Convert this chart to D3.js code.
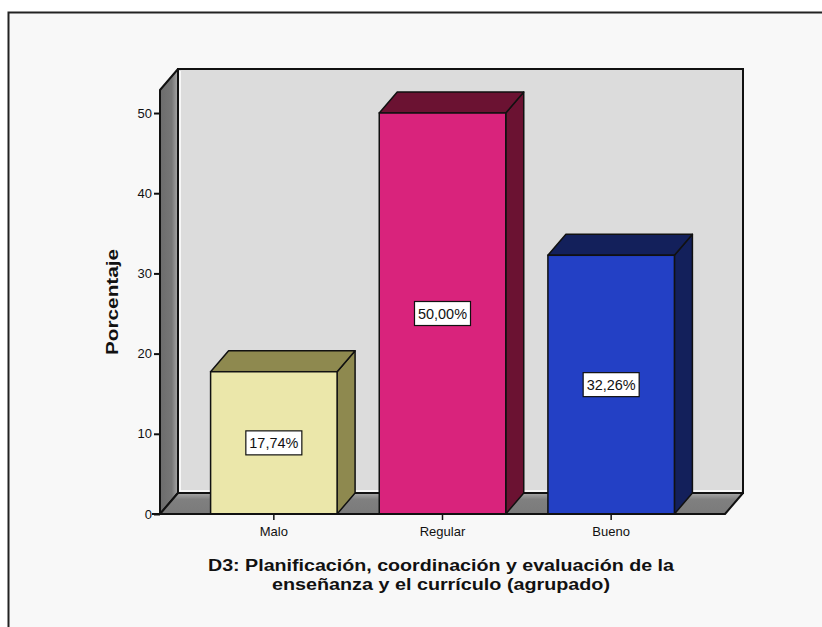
<!DOCTYPE html>
<html>
<head>
<meta charset="utf-8">
<script src="https://cdn.jsdelivr.net/npm/d3@7"></script>
<style>
  html, body { margin: 0; padding: 0; background: #ffffff; }
  svg { display: block; font-family: "Liberation Sans", Arial, sans-serif; }
</style>
</head>
<body>
<svg id="chart" width="822" height="627"></svg>
<script>
// Categories and percentages
const categories = ["Malo", "Regular", "Bueno"];
const percentages = [17.74, 50.00, 32.26];
const valueLabels = ["17,74%", "50,00%", "32,26%"];
const yTicks = [0, 10, 20, 30, 40, 50];
const frontColors = ["#ebe7aa", "#d9237c", "#2340c5"];
const darkColors = ["#8e894f", "#6b1232", "#13205b"];
const xTitle = ["D3: Planificación, coordinación y evaluación de la",
                "enseñanza y el currículo (agrupado)"];
const yTitle = "Porcentaje";

(function () {
const svg = d3.select("#chart");

// Outer panel
svg.append("rect")
  .attr("x", 8.5).attr("y", 12.5).attr("width", 840).attr("height", 640)
  .attr("fill", "#f8f8f8").attr("stroke", "#222").attr("stroke-width", 2);

// Plot geometry (front plane) and depth offset
const pLeft = 160, pRight = 725, pBottom = 514, pTop = 90;
const dx = 18, dy = -21;

const y = d3.scaleLinear().domain([0, 52.87]).range([pBottom, pTop]);
const x = d3.scaleBand().domain(categories).range([pLeft, pRight])
  .paddingInner(0.25).paddingOuter(0.3);

const defs = svg.append("defs");
const gWall = defs.append("linearGradient").attr("id", "leftWall")
  .attr("x1", 0).attr("x2", 1).attr("y1", 0).attr("y2", 0);
gWall.append("stop").attr("offset", "0%").attr("stop-color", "#6c6c6c");
gWall.append("stop").attr("offset", "65%").attr("stop-color", "#767676");
gWall.append("stop").attr("offset", "100%").attr("stop-color", "#a8a8a8");
const gFloor = defs.append("linearGradient").attr("id", "floor")
  .attr("x1", 0).attr("x2", 0).attr("y1", 1).attr("y2", 0);
gFloor.append("stop").attr("offset", "0%").attr("stop-color", "#7a7a7a");
gFloor.append("stop").attr("offset", "70%").attr("stop-color", "#808080");
gFloor.append("stop").attr("offset", "100%").attr("stop-color", "#a8a8a8");

const poly = pts => pts.map(p => p.join(",")).join(" ");

// Back wall
svg.append("rect")
  .attr("x", pLeft + dx).attr("y", pTop + dy)
  .attr("width", pRight - pLeft).attr("height", pBottom - pTop)
  .attr("fill", "#dcdcdc").attr("stroke", "#111").attr("stroke-width", 2);
svg.append("polyline")
  .attr("points", poly([[pLeft + dx + 2, pTop + dy + 2], [pLeft + dx + 2, pBottom + dy - 2], [pRight + dx - 2, pBottom + dy - 2]]))
  .attr("fill", "none").attr("stroke", "#ffffff").attr("stroke-width", 1.5);

// Left wall
svg.append("polygon")
  .attr("points", poly([[pLeft, pTop], [pLeft + dx, pTop + dy], [pLeft + dx, pBottom + dy], [pLeft, pBottom]]))
  .attr("fill", "url(#leftWall)").attr("stroke", "#111").attr("stroke-width", 2)
  .attr("stroke-linejoin", "round");

// Floor
svg.append("polygon")
  .attr("points", poly([[pLeft, pBottom], [pLeft + dx, pBottom + dy], [pRight + dx, pBottom + dy], [pRight, pBottom]]))
  .attr("fill", "url(#floor)").attr("stroke", "#111").attr("stroke-width", 2)
  .attr("stroke-linejoin", "round");

// Bars
const bars = svg.append("g").selectAll("g").data(categories).join("g");
bars.each(function (c, i) {
  const g = d3.select(this);
  const x0 = x(c), x1 = x(c) + x.bandwidth();
  const yt = y(percentages[i]), yb = y(0);
  g.append("polygon")
    .attr("points", poly([[x1, yt], [x1 + dx, yt + dy], [x1 + dx, yb + dy], [x1, yb]]))
    .attr("fill", darkColors[i]).attr("stroke", "#111").attr("stroke-width", 1.5)
    .attr("stroke-linejoin", "round");
  g.append("polygon")
    .attr("points", poly([[x0, yt], [x0 + dx, yt + dy], [x1 + dx, yt + dy], [x1, yt]]))
    .attr("fill", darkColors[i]).attr("stroke", "#111").attr("stroke-width", 1.5)
    .attr("stroke-linejoin", "round");
  g.append("rect")
    .attr("x", x0).attr("y", yt).attr("width", x1 - x0).attr("height", yb - yt)
    .attr("fill", frontColors[i]).attr("stroke", "#111").attr("stroke-width", 1.5);
});

// Value labels in boxes
bars.each(function (c, i) {
  const g = d3.select(this);
  const cx = x(c) + x.bandwidth() / 2;
  const cy = (y(percentages[i]) + y(0)) / 2;
  g.append("rect")
    .attr("x", cx - 28).attr("y", cy - 12).attr("width", 56).attr("height", 24)
    .attr("fill", "#ffffff").attr("stroke", "#111").attr("stroke-width", 1.2);
  g.append("text")
    .attr("x", cx).attr("y", cy).attr("dy", "0.36em")
    .attr("text-anchor", "middle").attr("font-size", 14).attr("fill", "#111")
    .attr("textLength", 49).attr("lengthAdjust", "spacingAndGlyphs")
    .text(valueLabels[i]);
});

// Y axis
const yAxis = d3.axisLeft(y).tickValues(yTicks).tickFormat(d3.format("d"))
  .tickSize(6).tickPadding(2);
const ya = svg.append("g").attr("transform", `translate(${pLeft},0)`).call(yAxis);
ya.select(".domain").remove();
ya.selectAll(".tick line").attr("stroke", "#111").attr("stroke-width", 2);
ya.selectAll(".tick text").attr("font-size", 13).attr("fill", "#111")
  .attr("font-family", "Liberation Sans, Arial, sans-serif");

// X axis
const xAxis = d3.axisBottom(x).tickSize(6).tickPadding(7);
const xa = svg.append("g").attr("transform", `translate(0,${pBottom})`).call(xAxis);
xa.select(".domain").remove();
xa.selectAll(".tick line").attr("stroke", "#111").attr("stroke-width", 1.5);
xa.selectAll(".tick text").attr("font-size", 13).attr("fill", "#111")
  .attr("font-family", "Liberation Sans, Arial, sans-serif");

// Front edge lines
svg.append("line").attr("x1", pLeft - 8).attr("x2", pRight).attr("y1", pBottom).attr("y2", pBottom)
  .attr("stroke", "#111").attr("stroke-width", 2);
svg.append("line").attr("x1", pLeft).attr("x2", pLeft).attr("y1", pTop).attr("y2", pBottom)
  .attr("stroke", "#111").attr("stroke-width", 2);

// Axis titles
svg.append("text")
  .attr("transform", `translate(118,${(pTop + pBottom) / 2}) rotate(-90)`)
  .attr("text-anchor", "middle").attr("font-size", 16).attr("font-weight", "bold")
  .attr("textLength", 106).attr("lengthAdjust", "spacingAndGlyphs")
  .attr("fill", "#111").text(yTitle);

const titleWidths = [466, 338];
svg.append("g").selectAll("text").data(xTitle).join("text")
  .attr("x", 441).attr("y", (d, i) => 571 + i * 19)
  .attr("text-anchor", "middle").attr("font-size", 16).attr("font-weight", "bold")
  .attr("fill", "#111")
  .attr("textLength", (d, i) => titleWidths[i]).attr("lengthAdjust", "spacingAndGlyphs")
  .text(d => d);
})();
</script>
</body>
</html>
